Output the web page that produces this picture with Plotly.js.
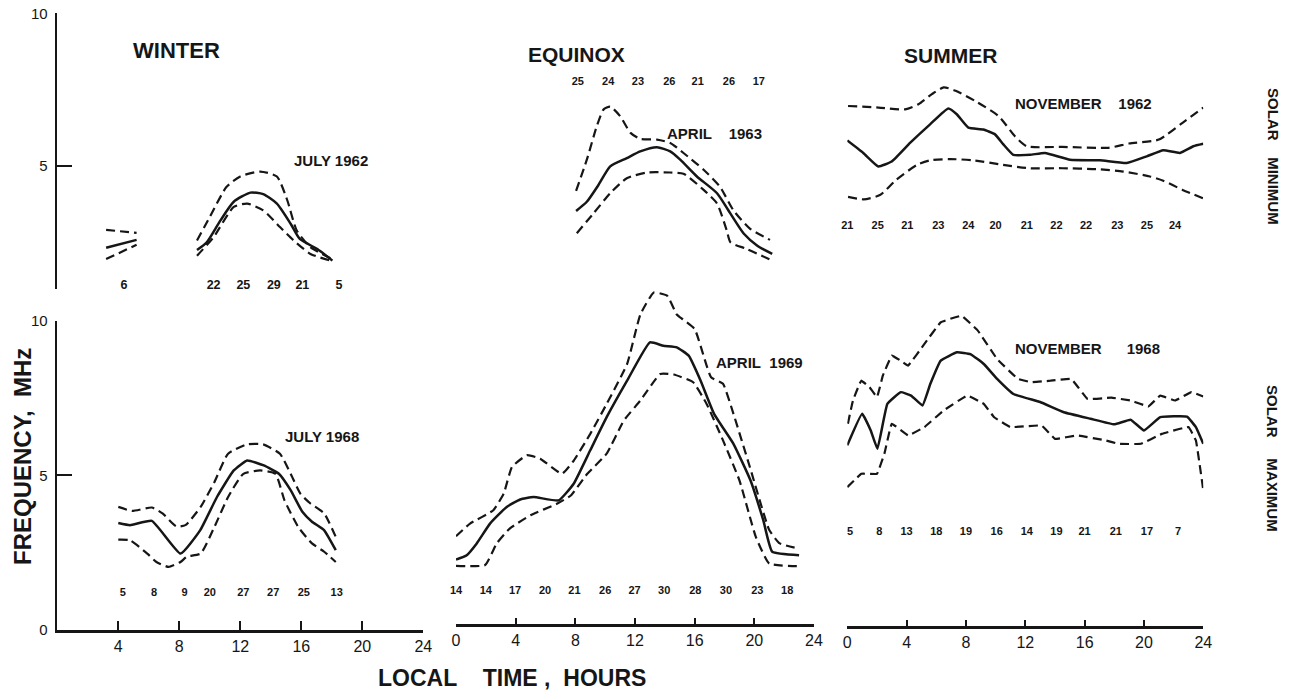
<!DOCTYPE html>
<html><head><meta charset="utf-8">
<script src="https://cdn.plot.ly/plotly-3.0.1.min.js"></script>
<style>html,body{margin:0;padding:0;background:#fff;} #chart{width:1292px;height:694px;}</style>
</head><body><div id="chart"></div>
<script>
// ---------- DATA (local time in hours, frequency in MHz) ----------
// Winter, solar minimum (July 1962)
const winMinEarlyHours = [3.2, 5.2];
const winMinEarlyMean  = [2.31, 2.57];
const winMinEarlyUpper = [2.90, 2.80];
const winMinEarlyLower = [1.94, 2.41];
const winMinMeanHours  = [9.16, 9.8, 10.7, 11.57, 12.66, 13.5, 14.4, 15.3, 15.9, 17.05, 18.04];
const winMinMean       = [2.24, 2.49, 3.21, 3.82, 4.12, 4.07, 3.76, 3.10, 2.60, 2.27, 1.89];
const winMinUpperHours = [9.16, 10.0, 11.1, 12.0, 13.3, 14.4, 15.08, 15.7, 16.6, 18.04];
const winMinUpper      = [2.55, 3.32, 4.31, 4.65, 4.81, 4.65, 3.87, 2.88, 2.33, 1.94];
const winMinLowerHours = [9.16, 10.25, 11.57, 12.45, 13.5, 14.6, 15.5, 16.6, 17.9];
const winMinLower      = [2.05, 2.66, 3.65, 3.76, 3.54, 2.99, 2.55, 2.11, 1.89];
const winMinCountHours = [4.37, 10.25, 12.2, 14.2, 16.07, 18.47];
const winMinCounts     = ['6', '22', '25', '29', '21', '5'];

// Equinox, solar minimum (April 1963)
const eqMinMeanHours  = [8.05, 8.77, 9.55, 10.34, 11.45, 12.35, 13.47, 14.36, 15.03, 16.15, 17.5, 18.4, 19.3, 20.2, 21.2];
const eqMinMean       = [3.52, 3.82, 4.37, 4.98, 5.25, 5.47, 5.61, 5.47, 5.20, 4.65, 4.10, 3.43, 2.77, 2.38, 2.11];
const eqMinUpperHours = [8.05, 8.77, 9.44, 9.9, 10.34, 11.0, 11.7, 12.35, 13.47, 14.36, 15.25, 16.6, 17.7, 18.6, 19.7, 21.05];
const eqMinUpper      = [4.18, 5.20, 6.30, 6.85, 6.94, 6.63, 6.08, 5.88, 5.86, 5.75, 5.42, 4.87, 4.31, 3.54, 2.94, 2.57];
const eqMinLowerHours = [8.1, 9.2, 10.34, 11.45, 12.8, 14.36, 15.25, 16.6, 17.5, 18.15, 18.4, 19.5, 21.2];
const eqMinLower      = [2.79, 3.43, 4.10, 4.59, 4.78, 4.78, 4.74, 4.21, 3.76, 2.88, 2.49, 2.27, 1.89];
const eqMinCountHours = [8.17, 10.2, 12.2, 14.3, 16.2, 18.3, 20.3];
const eqMinCounts     = ['25', '24', '23', '26', '21', '26', '17'];

// Summer, solar minimum (November 1962)
const sumMinMeanHours  = [0, 1.08, 2.09, 2.99, 4.23, 5.58, 6.81, 7.38, 8.16, 9.17, 9.96, 10.52, 11.19, 12.32, 13.33, 15.02, 17.04, 18.84, 20.19, 21.3, 22.43, 23.33, 24];
const sumMinMean       = [5.83, 5.42, 4.98, 5.14, 5.75, 6.36, 6.88, 6.69, 6.25, 6.19, 6.03, 5.70, 5.36, 5.36, 5.42, 5.20, 5.18, 5.09, 5.31, 5.51, 5.42, 5.64, 5.72];
const sumMinUpperHours = [0.05, 2.1, 3.9, 4.8, 5.7, 6.5, 7.3, 8.6, 10.2, 11.3, 12.1, 14.5, 17.6, 19.0, 21.0, 22.6, 24];
const sumMinUpper      = [6.96, 6.91, 6.85, 7.02, 7.35, 7.57, 7.46, 7.13, 6.63, 5.97, 5.64, 5.62, 5.59, 5.73, 5.86, 6.41, 6.91];
const sumMinLowerHours = [0.05, 1.1, 2.2, 3.3, 4.7, 5.6, 6.9, 8.5, 10.5, 12.3, 14.5, 16.8, 18.6, 20.4, 21.3, 22.6, 24];
const sumMinLower      = [3.98, 3.90, 4.04, 4.54, 5.03, 5.18, 5.22, 5.18, 5.03, 4.92, 4.92, 4.89, 4.81, 4.65, 4.51, 4.21, 3.93];
const sumMinCountHours = [0, 2.05, 4.05, 6.14, 8.16, 10.0, 12.1, 14.1, 16.1, 18.2, 20.2, 22.1];
const sumMinCounts     = ['21', '25', '21', '23', '24', '20', '21', '22', '22', '23', '25', '24'];

// Winter, solar maximum (July 1968)
const winMaxMeanHours  = [4.0, 4.77, 6.2, 8.08, 9.375, 10.47, 11.57, 12.45, 13.54, 14.53, 15.3, 16.07, 16.7, 17.49, 18.26];
const winMaxMean       = [3.46, 3.39, 3.53, 2.47, 3.23, 4.30, 5.16, 5.48, 5.32, 5.05, 4.52, 3.82, 3.50, 3.23, 2.58];
const winMaxUpperHours = [4.0, 4.9, 6.2, 6.9, 7.8, 8.4, 9.4, 10.3, 11.2, 12.45, 13.5, 14.6, 15.3, 15.95, 16.6, 17.5, 18.26];
const winMaxUpper      = [3.98, 3.85, 3.96, 3.77, 3.35, 3.39, 3.98, 4.78, 5.70, 6.00, 6.00, 5.70, 5.05, 4.40, 4.09, 3.77, 3.01];
const winMaxLowerHours = [4.0, 4.77, 5.9, 6.5, 7.3, 8.08, 8.5, 9.4, 10.3, 11.2, 12.2, 13.3, 14.3, 14.9, 15.8, 16.7, 17.5, 18.26];
const winMaxLower      = [2.92, 2.90, 2.47, 2.20, 2.04, 2.20, 2.37, 2.47, 3.33, 4.30, 5.05, 5.16, 5.05, 4.19, 3.33, 2.80, 2.53, 2.20];
const winMaxCountHours = [4.29, 6.35, 8.34, 10.0, 12.2, 14.16, 16.17, 18.32];
const winMaxCounts     = ['5', '8', '9', '20', '27', '27', '25', '13'];

// Equinox, solar maximum (April 1969)
const eqMaxMeanHours  = [0, 0.72, 1.39, 2.28, 3.4, 4.3, 5.2, 6.88, 7.89, 9.0, 10.1, 11.47, 13.0, 13.9, 14.8, 15.6, 16.4, 17.3, 18.6, 19.74, 20.6, 21.2, 23.0];
const eqMaxMean       = [2.28, 2.42, 2.80, 3.44, 3.98, 4.22, 4.30, 4.19, 4.73, 5.81, 6.88, 8.06, 9.30, 9.19, 9.14, 8.87, 8.06, 6.99, 6.02, 4.84, 3.55, 2.53, 2.42];
const eqMaxUpperHours = [0, 0.94, 2.5, 3.2, 3.75, 4.75, 5.64, 7.1, 7.9, 9.0, 10.1, 11.47, 12.36, 13.26, 14.15, 14.8, 15.05, 16.0, 17.1, 17.9, 18.6, 19.7, 21.0, 21.7, 23.0];
const eqMaxUpper      = [3.03, 3.44, 3.87, 4.41, 5.27, 5.65, 5.54, 5.05, 5.48, 6.34, 7.31, 8.60, 10.20, 10.91, 10.81, 10.20, 10.10, 9.73, 8.17, 7.96, 6.99, 5.27, 3.23, 2.80, 2.63];
const eqMaxLowerHours = [0, 1.95, 2.73, 3.6, 5.0, 6.8, 7.7, 8.8, 10.1, 11.25, 12.36, 13.7, 14.6, 15.9, 16.8, 17.9, 19.0, 20.1, 21.0, 23.0];
const eqMaxLower      = [2.07, 2.10, 2.80, 3.28, 3.71, 4.09, 4.35, 5.05, 5.70, 6.77, 7.42, 8.28, 8.26, 8.01, 7.31, 6.13, 4.84, 3.01, 2.15, 2.06];
const eqMaxCountHours = [0, 2.0, 3.96, 5.97, 7.94, 10.0, 11.97, 13.96, 16.04, 18.1, 20.2, 22.2];
const eqMaxCounts     = ['14', '14', '17', '20', '21', '26', '27', '30', '28', '30', '23', '18'];

// Summer, solar maximum (November 1968)
const sumMaxMeanHours  = [0, 1.0, 1.58, 2.03, 2.7, 3.6, 4.3, 5.07, 5.6, 6.3, 7.4, 8.3, 9.2, 10.1, 11.2, 13.0, 14.6, 16.4, 18.0, 19.1, 20.0, 21.1, 22.9, 23.5, 24.0];
const sumMaxMean       = [5.97, 6.99, 6.45, 5.86, 7.31, 7.69, 7.58, 7.26, 7.96, 8.71, 8.98, 8.92, 8.60, 8.12, 7.63, 7.37, 7.04, 6.83, 6.65, 6.80, 6.45, 6.88, 6.90, 6.56, 6.02];
const sumMaxUpperHours = [0.04, 0.38, 0.94, 1.5, 2.0, 2.4, 3.0, 3.6, 4.1, 5.2, 6.3, 7.7, 8.8, 10.1, 11.5, 12.4, 13.7, 15.1, 16.2, 17.8, 19.1, 20.3, 21.1, 22.1, 23.2, 24.0];
const sumMaxUpper      = [6.67, 7.42, 8.06, 7.85, 7.53, 8.23, 8.87, 8.71, 8.55, 9.25, 9.95, 10.16, 9.68, 8.76, 8.12, 8.01, 8.06, 8.12, 7.47, 7.51, 7.42, 7.23, 7.58, 7.42, 7.69, 7.55];
const sumMaxLowerHours = [0, 0.95, 2.0, 2.5, 3.0, 4.1, 5.2, 6.5, 8.1, 9.2, 9.9, 11.0, 13.1, 14.0, 15.5, 17.4, 18.3, 19.8, 21.2, 23.0, 23.5, 24.0];
const sumMaxLower      = [4.62, 5.05, 5.05, 5.70, 6.67, 6.29, 6.56, 7.10, 7.58, 7.31, 6.88, 6.56, 6.61, 6.18, 6.29, 6.13, 6.02, 6.02, 6.34, 6.56, 6.13, 4.52];
const sumMaxCountHours = [0.18, 2.16, 4.0, 6.0, 8.0, 10.07, 12.1, 14.1, 16.0, 18.1, 20.2, 22.3];
const sumMaxCounts     = ['5', '8', '13', '18', '19', '16', '14', '19', '21', '21', '17', '7'];

const winterTicks = [4, 8, 12, 16, 20, 24];
const hourTicks = [0, 4, 8, 12, 16, 20, 24];
const freqTicksMax = [0, 5, 10];
const freqTicksMin = [5, 10];

// ---------- STYLE ----------
const INK = '#161616';
const FONT = 'Liberation Sans, Arial, Helvetica, sans-serif';
const W = 1292, H = 694;
const px = v => v / W;
const py = v => 1 - v / H;

function line(xa, ya, xs, ys, dashed, smooth) {
  return {
    type: 'scatter', mode: 'lines', x: xs, y: ys, xaxis: xa, yaxis: ya,
    line: {color: INK, width: dashed ? 2.2 : 2.5, dash: dashed ? '9px,5px' : 'solid',
           shape: 'spline', smoothing: smooth === undefined ? 0.6 : smooth},
    hoverinfo: 'skip', showlegend: false
  };
}
function counts(xa, ya, xs, labels, yv, size) {
  return {
    type: 'scatter', mode: 'text', x: xs, y: xs.map(() => yv), text: labels,
    xaxis: xa, yaxis: ya, cliponaxis: false,
    textfont: {family: FONT, size: size || 11, color: INK, weight: 'bold'},
    hoverinfo: 'skip', showlegend: false
  };
}

const traces = [
  // winter min
  line('x', 'y2', winMinEarlyHours, winMinEarlyMean, false),
  line('x', 'y2', winMinEarlyHours, winMinEarlyUpper, true),
  line('x', 'y2', winMinEarlyHours, winMinEarlyLower, true),
  line('x', 'y2', winMinMeanHours, winMinMean, false),
  line('x', 'y2', winMinUpperHours, winMinUpper, true),
  line('x', 'y2', winMinLowerHours, winMinLower, true),
  counts('x', 'y2', winMinCountHours, winMinCounts, 1.06, 12.5),
  // equinox min
  line('x2', 'y2', eqMinMeanHours, eqMinMean, false),
  line('x2', 'y2', eqMinUpperHours, eqMinUpper, true),
  line('x2', 'y2', eqMinLowerHours, eqMinLower, true),
  counts('x2', 'y2', eqMinCountHours, eqMinCounts, 7.75),
  // summer min
  line('x3', 'y2', sumMinMeanHours, sumMinMean, false, 0.4),
  line('x3', 'y2', sumMinUpperHours, sumMinUpper, true),
  line('x3', 'y2', sumMinLowerHours, sumMinLower, true),
  counts('x3', 'y2', sumMinCountHours, sumMinCounts, 3.02),
  // winter max
  line('x', 'y', winMaxMeanHours, winMaxMean, false, 0.4),
  line('x', 'y', winMaxUpperHours, winMaxUpper, true, 0.5),
  line('x', 'y', winMaxLowerHours, winMaxLower, true, 0.5),
  counts('x', 'y', winMaxCountHours, winMaxCounts, 1.18),
  // equinox max
  line('x2', 'y3', eqMaxMeanHours, eqMaxMean, false, 0.4),
  line('x2', 'y3', eqMaxUpperHours, eqMaxUpper, true, 0.4),
  line('x2', 'y3', eqMaxLowerHours, eqMaxLower, true, 0.4),
  counts('x2', 'y3', eqMaxCountHours, eqMaxCounts, 1.24),
  // summer max
  line('x3', 'y3', sumMaxMeanHours, sumMaxMean, false, 0.3),
  line('x3', 'y3', sumMaxUpperHours, sumMaxUpper, true, 0.2),
  line('x3', 'y3', sumMaxLowerHours, sumMaxLower, true, 0.2),
  counts('x3', 'y3', sumMaxCountHours, sumMaxCounts, 3.17)
];

const axisBase = {
  showgrid: false, zeroline: false, showline: true, linecolor: INK, linewidth: 2.6,
  ticks: 'inside', tickcolor: INK, tickwidth: 2.2, fixedrange: true,
  tickfont: {family: FONT, size: 16, color: INK}
};

function ann(text, x, y, size, opts) {
  return Object.assign({
    text: text, xref: 'paper', yref: 'paper', x: px(x), y: py(y),
    xanchor: 'center', yanchor: 'middle', showarrow: false,
    font: {family: FONT, size: size, color: INK, weight: 'bold'}
  }, opts || {});
}
const NB = n => '\u00a0'.repeat(n);

const layout = {
  width: W, height: H, margin: {l: 0, r: 0, t: 0, b: 0},
  paper_bgcolor: '#ffffff', plot_bgcolor: 'rgba(0,0,0,0)',
  showlegend: false, hovermode: false,
  xaxis: Object.assign({}, axisBase, {domain: [px(57.3), px(423.3)], range: [0, 24], anchor: 'y',
                        tickvals: winterTicks, ticklen: 9}),
  xaxis2: Object.assign({}, axisBase, {domain: [px(456), px(814)], range: [0, 24], anchor: 'free',
                         position: 1 - 625 / H, tickvals: hourTicks, ticklen: 6}),
  xaxis3: Object.assign({}, axisBase, {domain: [px(847.3), px(1203.3)], range: [0, 24], anchor: 'free',
                         position: 1 - 627 / H, tickvals: hourTicks, ticklen: 6}),
  yaxis: Object.assign({}, axisBase, {domain: [py(630), py(320.7)], range: [0, 10], anchor: 'x',
                        tickvals: freqTicksMax, ticklen: 15, ticklabelstandoff: 4,
                        tickfont: {family: FONT, size: 15, color: INK}}),
  yaxis2: Object.assign({}, axisBase, {domain: [py(289.3), py(13.3)], range: [0.95, 10], anchor: 'x',
                         tickvals: freqTicksMin, ticklen: 15, ticklabelstandoff: 4,
                         tickfont: {family: FONT, size: 15, color: INK}}),
  yaxis3: {domain: [py(630), py(630 - 11.3 * 30.93)], range: [0, 11.3], anchor: 'x2',
           visible: false, fixedrange: true},
  annotations: [
    ann('WINTER', 176, 51, 22),
    ann('EQUINOX', 576, 54, 21),
    ann('SUMMER', 950, 56, 21),
    ann('JULY 1962', 331, 161, 15),
    ann('APRIL' + NB(4) + '1963', 714, 133, 15),
    ann('NOVEMBER' + NB(4) + '1962', 1083, 104, 15),
    ann('JULY 1968', 322, 436, 15),
    ann('APRIL' + NB(2) + '1969', 759, 362, 15),
    ann('NOVEMBER' + NB(6) + '1968', 1087, 348, 15),
    ann('FREQUENCY,  MHz', 22, 457, 24, {textangle: -90}),
    ann('LOCAL' + NB(4) + 'TIME' + NB(1) + ',' + NB(2) + 'HOURS', 512, 678, 23),
    ann('SOLAR' + NB(4) + 'MINIMUM', 1273, 156, 15, {textangle: 90}),
    ann('SOLAR' + NB(5) + 'MAXIMUM', 1273, 458, 15, {textangle: 90})
  ]
};

Plotly.newPlot('chart', traces, layout, {staticPlot: true, displayModeBar: false});
</script></body></html>
